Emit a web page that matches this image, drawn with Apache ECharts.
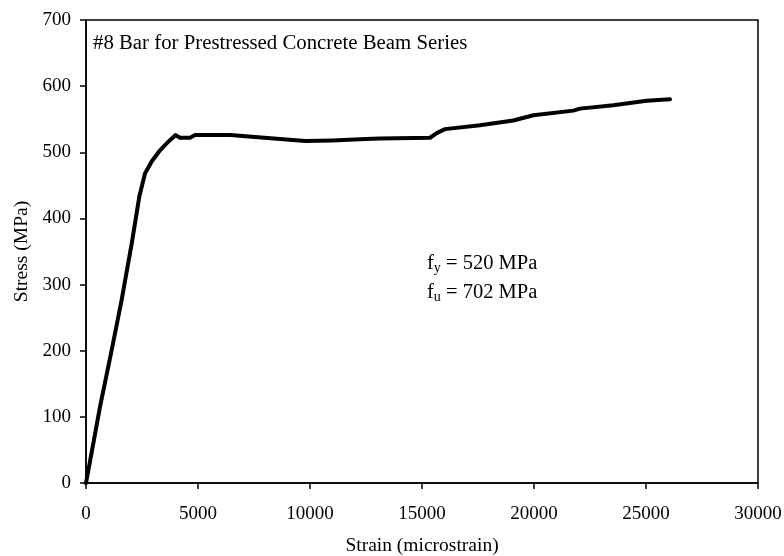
<!DOCTYPE html>
<html>
<head>
<meta charset="utf-8">
<script src="https://cdn.jsdelivr.net/npm/echarts@6/dist/echarts.min.js"></script>
<style>html,body{margin:0;padding:0;background:#fff}#c{width:784px;height:556px}</style>
</head>
<body>
<div id="c"></div>
<script>
var strain = [0, 300, 625, 1146, 1592, 2040, 2380, 2634, 2932, 3304, 3676, 4003, 4196, 4643, 4866, 6430, 8660, 9800, 11000, 12500, 13125, 15357, 15655, 16027, 17589, 19077, 19970, 21756, 22054, 23540, 25030, 26071];
var stress = [0, 55, 115, 201, 277, 362, 433, 468, 486, 503, 516, 526, 522, 522, 526, 526, 520, 517, 518, 520, 521, 522, 529, 535, 541, 548, 556, 563, 566, 571, 578, 580];
var xTicks = [0, 5000, 10000, 15000, 20000, 25000, 30000];
var yTicks = [0, 100, 200, 300, 400, 500, 600, 700];
var titleText = '#8 Bar for Prestressed Concrete Beam Series';

var font = '"Liberation Serif", "Times New Roman", serif';
var data = strain.map(function (s, i) { return [s, stress[i]]; });
var chart = echarts.init(document.getElementById('c'));
chart.setOption({
  animation: false,
  backgroundColor: '#fff',
  grid: { left: 86, right: 26, top: 20, bottom: 73, show: true, borderColor: '#000', borderWidth: 1.5, outerBoundsMode: 'none', containLabel: false },
  xAxis: {
    type: 'value', min: xTicks[0], max: xTicks[xTicks.length - 1], interval: 5000,
    name: 'Strain (microstrain)', nameLocation: 'middle', nameGap: 53,
    nameTextStyle: { fontFamily: font, fontSize: 19.5, color: '#000' },
    axisLine: { show: true, lineStyle: { color: '#000', width: 1.5 } },
    axisTick: { show: true, inside: false, length: 6, lineStyle: { color: '#000', width: 1.5 } },
    axisLabel: { fontFamily: font, fontSize: 19, color: '#000', margin: 22, formatter: function (v) { return String(v); } },
    splitLine: { show: false }
  },
  yAxis: {
    type: 'value', min: yTicks[0], max: yTicks[yTicks.length - 1], interval: 100,
    name: 'Stress (MPa)', nameLocation: 'middle', nameGap: 51, nameRotate: 90,
    nameTextStyle: { fontFamily: font, fontSize: 19.5, color: '#000' },
    axisLine: { show: true, lineStyle: { color: '#000', width: 1.5 } },
    axisTick: { show: true, inside: false, length: 6, lineStyle: { color: '#000', width: 1.5 } },
    axisLabel: { fontFamily: font, fontSize: 19, color: '#000', margin: 15 },
    splitLine: { show: false }
  },
  series: [{
    type: 'line', data: data, showSymbol: false, smooth: false,
    lineStyle: { color: '#000', width: 4, cap: 'round', join: 'round' }
  }],
  graphic: [
    { type: 'text', left: 93, top: 33, style: { text: titleText, font: '20.8px ' + font, fill: '#000' } },
    { type: 'text', left: 427, top: 252, style: {
      text: '{f|f}{s|y}{f| = 520 MPa}\n{f|f}{s|u}{f| = 702 MPa}',
      rich: {
        f: { font: '20.5px ' + font, fill: '#000', lineHeight: 29 },
        s: { font: '14px ' + font, fill: '#000', padding: [9, 0, 0, 0], lineHeight: 29 }
      }
    } }
  ]
});
</script>
</body>
</html>
